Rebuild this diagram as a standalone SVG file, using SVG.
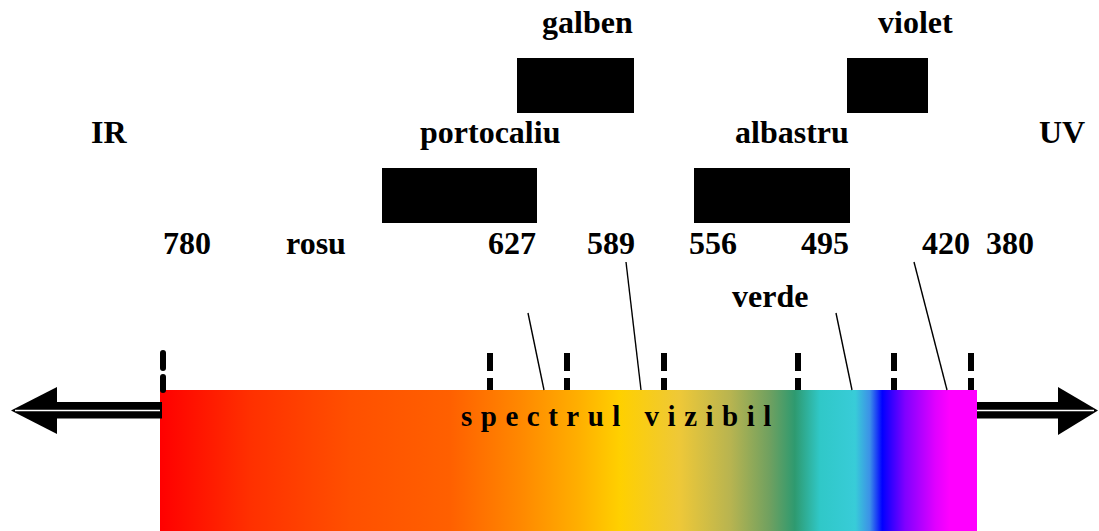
<svg xmlns="http://www.w3.org/2000/svg" width="1099" height="531" viewBox="0 0 1099 531">
<defs>
<style>
.t{font-family:"Liberation Serif","Times New Roman",serif;font-weight:bold;font-size:32px;fill:#000}
.sp{font-family:"Liberation Serif","Times New Roman",serif;font-weight:bold;font-size:29px;letter-spacing:8.5px;fill:#000}
.box{fill:#000}
.tick{stroke:#000;stroke-width:6;fill:none}
.lead{stroke:#000;stroke-width:1.4;fill:none}
.wl{stroke:#fff;stroke-width:1.5}
</style>
<linearGradient id="spec" x1="160" y1="0" x2="977" y2="0" gradientUnits="userSpaceOnUse">
<stop offset="0" stop-color="#ff0000"/>
<stop offset="0.11" stop-color="#ff3000"/>
<stop offset="0.233" stop-color="#ff5000"/>
<stop offset="0.355" stop-color="#ff6000"/>
<stop offset="0.441" stop-color="#ff8800"/>
<stop offset="0.514" stop-color="#ffb000"/>
<stop offset="0.563" stop-color="#ffd000"/>
<stop offset="0.636" stop-color="#eec838"/>
<stop offset="0.698" stop-color="#b8b450"/>
<stop offset="0.747" stop-color="#6ea060"/>
<stop offset="0.777" stop-color="#2e9a70"/>
<stop offset="0.808" stop-color="#30c8c8"/>
<stop offset="0.851" stop-color="#38ccd8"/>
<stop offset="0.869" stop-color="#3c90e8"/>
<stop offset="0.884" stop-color="#0000ff"/>
<stop offset="0.912" stop-color="#8000ff"/>
<stop offset="0.949" stop-color="#e000ff"/>
<stop offset="0.967" stop-color="#ff00ff"/>
<stop offset="1" stop-color="#ff00ff"/>
</linearGradient>
</defs>
<rect width="1099" height="531" fill="#fff"/>

<g id="spectrum">
<rect x="160" y="390" width="817" height="141" fill="url(#spec)"/>
<text class="sp" x="461" y="426">spectrul vizibil</text>
</g>

<g id="arrow-left">
<rect x="55" y="402" width="107" height="16.5" fill="#000"/>
<polygon points="11,410.5 57,387 57,434" fill="#000"/>
<line class="wl" x1="15" y1="410.5" x2="160" y2="410.5"/>
</g>
<g id="arrow-right">
<rect x="977" y="402" width="83" height="16.5" fill="#000"/>
<polygon points="1098,410.5 1058,387 1058,435" fill="#000"/>
<line class="wl" x1="977" y1="410.5" x2="1094" y2="410.5"/>
</g>

<g id="ticks">
<line class="tick" x1="163" y1="353" x2="163" y2="368" stroke-linecap="round"/>
<line class="tick" x1="163" y1="377" x2="163" y2="390" stroke-linecap="round"/>
<path class="tick" d="M490,353V371M490,378V390M567,353V371M567,378V390M664,353V371M664,378V390M798,353V371M798,378V390M894,353V371M894,378V390M971,353V371M971,378V390"/>
</g>

<g id="connectors">
<line class="lead" x1="528" y1="313" x2="544" y2="390"/>
<line class="lead" x1="626" y1="262" x2="641" y2="390"/>
<line class="lead" x1="836" y1="313" x2="852" y2="390"/>
<line class="lead" x1="914" y1="262" x2="947" y2="390"/>
</g>

<g id="galben"><text class="t" x="542" y="33">galben</text><rect class="box" x="517" y="58" width="117" height="55"/></g>
<g id="violet"><text class="t" x="878" y="33">violet</text><rect class="box" x="847" y="58" width="81" height="55"/></g>
<g id="portocaliu"><text class="t" x="420" y="143">portocaliu</text><rect class="box" x="382" y="168" width="155" height="55"/></g>
<g id="albastru"><text class="t" x="735" y="143">albastru</text><rect class="box" x="694" y="168" width="156" height="55"/></g>
<g id="IR"><text class="t" x="91" y="143">IR</text></g>
<g id="UV"><text class="t" x="1039" y="143">UV</text></g>
<g id="rosu"><text class="t" x="286" y="254">rosu</text></g>
<g id="verde"><text class="t" x="732" y="307">verde</text></g>
<g id="labels-nm">
<text class="t" x="163" y="254">780</text>
<text class="t" x="488" y="254">627</text>
<text class="t" x="587" y="254">589</text>
<text class="t" x="689" y="254">556</text>
<text class="t" x="801" y="254">495</text>
<text class="t" x="922" y="254">420</text>
<text class="t" x="986" y="254">380</text>
</g>
</svg>
